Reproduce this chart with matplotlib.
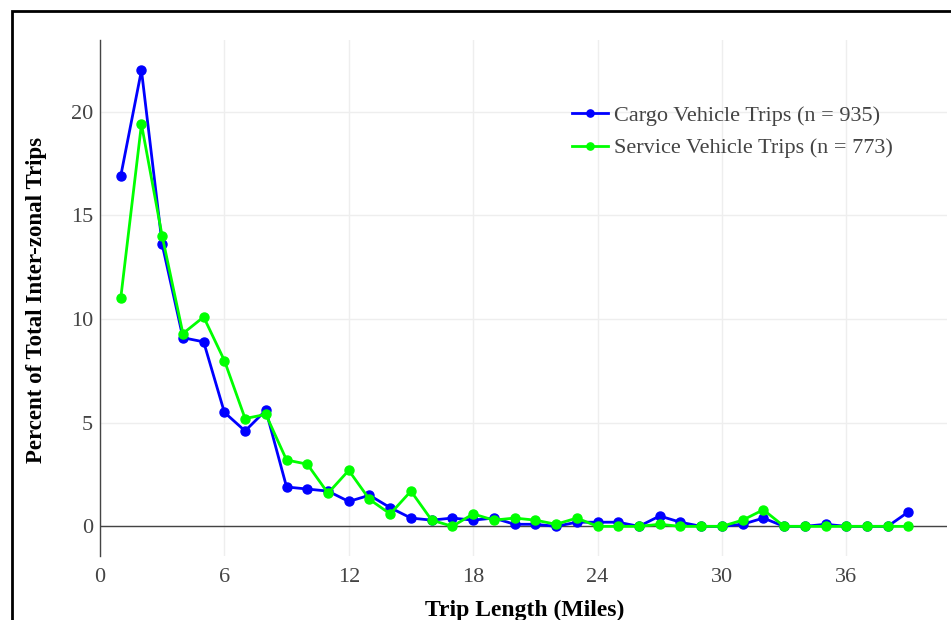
import matplotlib.pyplot as plt
import numpy as np
from matplotlib.patches import Rectangle

plt.rcParams['font.family'] = ['Liberation Serif', 'DejaVu Serif']

# trip length in miles
miles = list(range(1, 40))

cargo_pct = [16.9, 22.0, 13.6, 9.1, 8.9, 5.5, 4.6, 5.6, 1.9, 1.8,
             1.7, 1.2, 1.5, 0.9, 0.4, 0.3, 0.4, 0.3, 0.4, 0.1,
             0.1, 0.0, 0.2, 0.2, 0.2, 0.0, 0.5, 0.2, 0.0, 0.0,
             0.1, 0.4, 0.0, 0.0, 0.1, 0.0, 0.0, 0.0, 0.7]

service_pct = [11.0, 19.4, 14.0, 9.3, 10.1, 8.0, 5.2, 5.4, 3.2, 3.0,
               1.6, 2.7, 1.3, 0.6, 1.7, 0.3, 0.0, 0.6, 0.3, 0.4,
               0.3, 0.1, 0.4, 0.0, 0.0, 0.0, 0.1, 0.0, 0.0, 0.0,
               0.3, 0.8, 0.0, 0.0, 0.0, 0.0, 0.0, 0.0, 0.0]

series_names = ['Cargo Vehicle Trips (n = 935)', 'Service Vehicle Trips (n = 773)']
x_ticks = [0, 6, 12, 18, 24, 30, 36]
y_ticks = [0, 5, 10, 15, 20]

W, H = 951, 620
fig = plt.figure(figsize=(W / 100, H / 100), dpi=100)
ax = fig.add_axes([100 / W, (H - 556) / H, 847 / W, 516 / H])

# outer frame (cropped at right/bottom in the reference)
fig.patches.append(Rectangle((12 / W, -0.1), 1.2, (H - 11) / H + 0.1,
                             transform=fig.transFigure, fill=False,
                             edgecolor='black', linewidth=2))

ax.plot(miles, cargo_pct, '-o', color='#0000ff', lw=2, ms=6.5, label=series_names[0], zorder=3)
ax.plot(miles, service_pct, '-o', color='#00ff00', lw=2, ms=6.5, label=series_names[1], zorder=4)

ax.axhline(0, color='#444444', lw=1, zorder=2)

ax.set_xlim(0, 40.86)
ax.set_ylim(-1.43, 23.46)
ax.set_xticks(x_ticks)
ax.set_yticks(y_ticks)
ax.tick_params(length=0, labelsize=16, labelcolor='#444444')
ax.tick_params(axis='x', pad=9)
ax.tick_params(axis='y', pad=5)
ax.grid(color='#eeeeee', lw=1)
ax.set_axisbelow(True)

for s in ['top', 'right', 'bottom']:
    ax.spines[s].set_visible(False)
ax.spines['left'].set_color('#444444')
ax.spines['left'].set_linewidth(1)

fig.text(37 / W, 1 - 300 / H, 'Percent of Total Inter-zonal Trips', rotation=90,
         ha='center', va='center', fontsize=16.5, fontweight='bold')
fig.text(525 / W, 1 - 610 / H, 'Trip Length (Miles)', ha='center', va='center',
         fontsize=17, fontweight='bold')

ax.legend(loc='upper left', bbox_to_anchor=(572 / W, 1 - 105 / H),
          bbox_transform=fig.transFigure, frameon=False, fontsize=16,
          handlelength=1.6, handletextpad=0.3, labelspacing=0.55,
          markerscale=0.8, labelcolor='#444444', borderaxespad=0, borderpad=0)

fig.savefig('out.png', dpi=100)
